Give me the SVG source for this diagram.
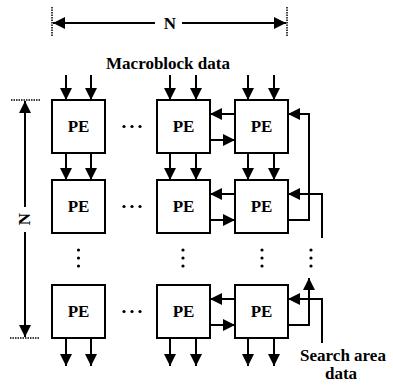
<svg xmlns="http://www.w3.org/2000/svg" width="393" height="385" viewBox="0 0 393 385">
<defs>
<marker id="ah" markerUnits="userSpaceOnUse" markerWidth="12" markerHeight="12" viewBox="0 0 12 12" refX="12" refY="6" orient="auto">
<path d="M0,0 L12,6 L0,12 z" fill="#000"/>
</marker>
<style>
.box{fill:#fff;stroke:#000;stroke-width:2}
.pe{font-family:"Liberation Serif","Times New Roman",serif;font-weight:bold;font-size:17px;text-anchor:middle}
.lbl{font-family:"Liberation Serif","Times New Roman",serif;font-weight:bold;font-size:17px;text-anchor:middle}
.ln{fill:none;stroke:#000;stroke-width:2}
.ar{fill:none;stroke:#000;stroke-width:2;marker-end:url(#ah)}
.tick{fill:none;stroke:#000;stroke-width:1.5;stroke-dasharray:1.5 1}
.dot{fill:#000}
</style>
</defs>
<rect width="393" height="385" fill="#fff"/>

<g id="dimensions">
<line class="tick" x1="52" y1="7" x2="52" y2="36"/>
<line class="tick" x1="287" y1="7" x2="287" y2="36"/>
<line class="ar" x1="155" y1="23" x2="53" y2="23"/>
<line class="ar" x1="182" y1="23" x2="286" y2="23"/>
<text class="lbl" x="170" y="29" font-size="18">N</text>
<line class="tick" x1="11" y1="100" x2="40" y2="100"/>
<line class="tick" x1="10" y1="338" x2="39" y2="338"/>
<line class="ar" x1="25" y1="207" x2="25" y2="101"/>
<line class="ar" x1="25" y1="232" x2="25" y2="337"/>
<text class="lbl" x="0" y="0" transform="translate(30,219) rotate(-90)" font-size="18">N</text>
</g>

<g id="labels">
<text class="lbl" x="168" y="69" font-size="19">Macroblock data</text>
<text class="lbl" x="343" y="361">Search area</text>
<text class="lbl" x="341" y="379">data</text>
</g>

<g id="pe-1-1"><rect class="box" x="52" y="100" width="53" height="53"/><text class="pe" x="78.5" y="132">PE</text></g>
<g id="pe-1-2"><rect class="box" x="157" y="100" width="53" height="53"/><text class="pe" x="183.5" y="132">PE</text></g>
<g id="pe-1-3"><rect class="box" x="235" y="100" width="53" height="53"/><text class="pe" x="261.5" y="132">PE</text></g>
<g id="pe-2-1"><rect class="box" x="52" y="180" width="53" height="53"/><text class="pe" x="78.5" y="212">PE</text></g>
<g id="pe-2-2"><rect class="box" x="157" y="180" width="53" height="53"/><text class="pe" x="183.5" y="212">PE</text></g>
<g id="pe-2-3"><rect class="box" x="235" y="180" width="53" height="53"/><text class="pe" x="261.5" y="212">PE</text></g>
<g id="pe-3-1"><rect class="box" x="52" y="285" width="53" height="53"/><text class="pe" x="78.5" y="317">PE</text></g>
<g id="pe-3-2"><rect class="box" x="157" y="285" width="53" height="53"/><text class="pe" x="183.5" y="317">PE</text></g>
<g id="pe-3-3"><rect class="box" x="235" y="285" width="53" height="53"/><text class="pe" x="261.5" y="317">PE</text></g>

<g id="ellipses">
<circle class="dot" cx="124" cy="126.5" r="1.6"/><circle class="dot" cx="132" cy="126.5" r="1.6"/><circle class="dot" cx="140" cy="126.5" r="1.6"/>
<circle class="dot" cx="124" cy="206.5" r="1.6"/><circle class="dot" cx="132" cy="206.5" r="1.6"/><circle class="dot" cx="140" cy="206.5" r="1.6"/>
<circle class="dot" cx="124" cy="311.5" r="1.6"/><circle class="dot" cx="132" cy="311.5" r="1.6"/><circle class="dot" cx="140" cy="311.5" r="1.6"/>
<circle class="dot" cx="78.5" cy="250" r="1.6"/><circle class="dot" cx="78.5" cy="258" r="1.6"/><circle class="dot" cx="78.5" cy="266" r="1.6"/>
<circle class="dot" cx="183" cy="250" r="1.6"/><circle class="dot" cx="183" cy="258" r="1.6"/><circle class="dot" cx="183" cy="266" r="1.6"/>
<circle class="dot" cx="262" cy="250" r="1.6"/><circle class="dot" cx="262" cy="258" r="1.6"/><circle class="dot" cx="262" cy="266" r="1.6"/>
<circle class="dot" cx="311" cy="250" r="1.6"/><circle class="dot" cx="311" cy="258" r="1.6"/><circle class="dot" cx="311" cy="266" r="1.6"/>
</g>

<g id="connectors">
<line class="ar" x1="66" y1="75" x2="66" y2="100"/>
<line class="ar" x1="91" y1="75" x2="91" y2="100"/>
<line class="ar" x1="170" y1="75" x2="170" y2="100"/>
<line class="ar" x1="196" y1="75" x2="196" y2="100"/>
<line class="ar" x1="248" y1="75" x2="248" y2="100"/>
<line class="ar" x1="274" y1="75" x2="274" y2="100"/>
<line class="ar" x1="66" y1="153" x2="66" y2="180"/>
<line class="ar" x1="91" y1="153" x2="91" y2="180"/>
<line class="ar" x1="170" y1="153" x2="170" y2="180"/>
<line class="ar" x1="196" y1="153" x2="196" y2="180"/>
<line class="ar" x1="248" y1="153" x2="248" y2="180"/>
<line class="ar" x1="274" y1="153" x2="274" y2="180"/>
<line class="ar" x1="66" y1="338" x2="66" y2="366"/>
<line class="ar" x1="91" y1="338" x2="91" y2="366"/>
<line class="ar" x1="170" y1="338" x2="170" y2="366"/>
<line class="ar" x1="196" y1="338" x2="196" y2="366"/>
<line class="ar" x1="248" y1="338" x2="248" y2="366"/>
<line class="ar" x1="274" y1="338" x2="274" y2="366"/>
<line class="ar" x1="235" y1="114" x2="210" y2="114"/>
<line class="ar" x1="210" y1="140" x2="235" y2="140"/>
<line class="ar" x1="235" y1="194" x2="210" y2="194"/>
<line class="ar" x1="210" y1="220" x2="235" y2="220"/>
<line class="ar" x1="235" y1="299" x2="210" y2="299"/>
<line class="ar" x1="210" y1="325" x2="235" y2="325"/>
<path class="ar" d="M288,220 H309 V114 H288"/>
<path class="ar" d="M322,238 V194 H288"/>
<path class="ar" d="M288,325 H309 V278"/>
<path class="ar" d="M322,343 V299 H288"/>
</g>
</svg>
